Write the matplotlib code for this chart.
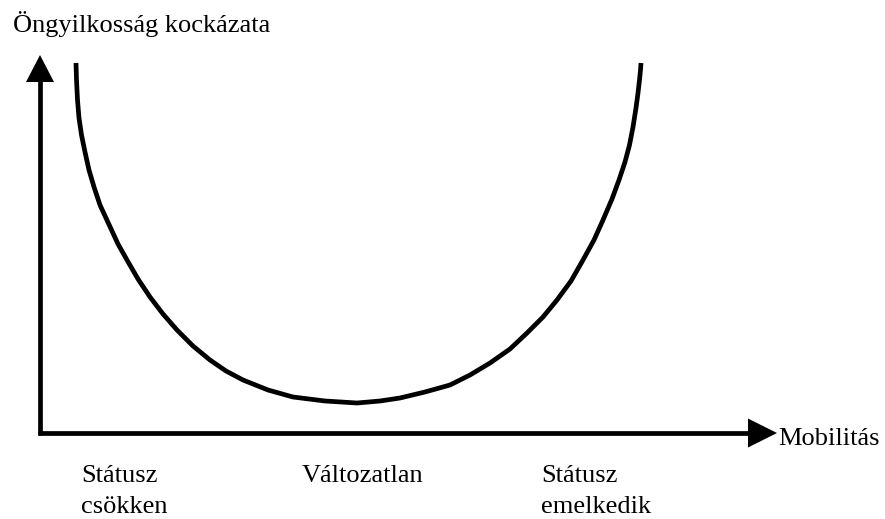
import matplotlib
matplotlib.use('Agg')

from matplotlib import pyplot as plt
from matplotlib.patches import Polygon

# U-shaped curve (pixel space, y grows downward)
mobility = [76, 76.5, 77.5, 79, 81.5, 85, 89, 94, 100, 106, 112, 118, 127, 138, 150,
            163, 177, 193, 210, 226, 243, 268, 293, 325, 357,
            380, 400, 425, 450, 470, 490, 510, 527, 543, 557, 571, 583, 594,
            603, 612, 619, 625, 629.5, 633, 636, 638, 639.5, 640.5, 641]
risk = [63, 80, 100, 118, 135, 152, 170, 187, 205, 218, 231, 244, 260, 279, 297,
        314, 330, 346, 360, 371, 380, 390, 397, 401, 403,
        401, 398, 392, 385, 375, 363, 349, 333, 317, 300, 281, 260, 240,
        220, 199, 180, 162, 145, 127, 108, 93, 80, 70, 63]

y_title = "Öngyilkosság kockázata"
x_title = "Mobilitás"
cat_labels = ["Státusz\ncsökken", "Változatlan", "Státusz\nemelkedik"]
cat_x = [81, 302, 541]

W, H = 885, 519
fig = plt.figure(figsize=(W / 100, H / 100), dpi=100)
ax = fig.add_axes([0, 0, 1, 1])
ax.set_xlim(0, W)
ax.set_ylim(H, 0)
ax.axis('off')

font = dict(family='Liberation Serif', fontsize=19, color='black')
lw = 3.4

# axes with arrow heads
ox, oy = 40, 433
ax.plot([ox, ox], [oy + 2, 80], color='black', lw=lw, solid_capstyle='butt')
ax.plot([ox - 2, 750], [oy, oy], color='black', lw=lw, solid_capstyle='butt')
ax.add_patch(Polygon([[ox, 55], [ox - 14, 82], [ox + 14, 82]], closed=True,
                     color='black', lw=0))
ax.add_patch(Polygon([[777, oy], [748, oy - 14.5], [748, oy + 14.5]], closed=True,
                     color='black', lw=0))

# the curve
ax.plot(mobility, risk, color='black', lw=lw, solid_joinstyle='round',
        solid_capstyle='butt')

ax.text(13, 32, y_title, ha='left', va='baseline', **font)
ax.text(778, 445, x_title, ha='left', va='baseline', **font)
for x, lab in zip(cat_x, cat_labels):
    for i, line in enumerate(lab.split("\n")):
        ax.text(x, 482 + i * 31, line, ha='left', va='baseline', **font)

fig.savefig('out.png', dpi=100, facecolor='white')
